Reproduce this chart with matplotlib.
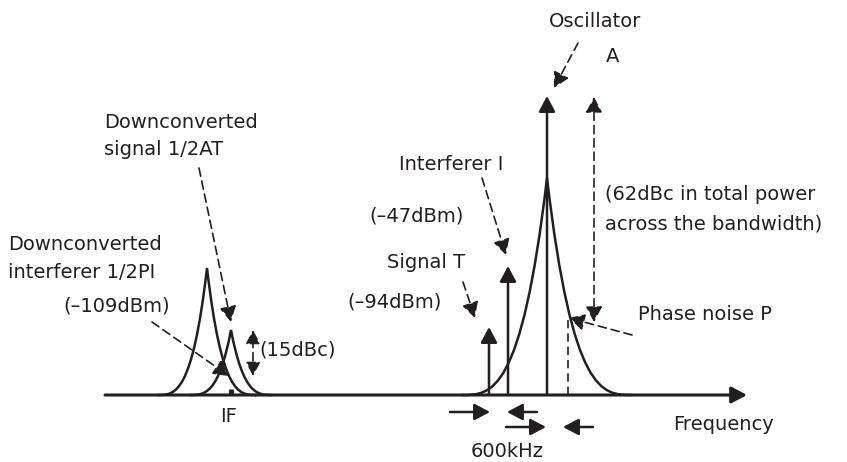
#!/usr/bin/env python3
"""Spectrum sketch: reciprocal mixing of phase noise down to IF."""

import matplotlib.pyplot as plt
from matplotlib.patches import PathPatch
from matplotlib.path import Path

INK = "#231f20"
BASE_Y = 395  # row of the frequency axis, counted from the top of the picture

# IF side: downconverted interferer 1/2PI, downconverted signal 1/2AT
IF_CENTERS = [207, 231]
IF_PEAKS = [127, 65]
IF_HALFW = [49, 41]
IF_X = 231

# RF side: oscillator A with its phase noise skirt, signal T, interferer I
OSC_X = 547
OSC_TOP = 299
NOISE_PEAK = 217
NOISE_HALFW = 85
TONE_X = [489, 508]
TONE_TOP = [68, 129]
OFFSET_X = 568
OFFSET_LEVEL = 77

HEAD = "-|>,head_length=0.47,head_width=0.25"
HEAD2 = "<|-|>,head_length=0.47,head_width=0.25"
DASH = (0, (5, 3))


def py(row):
    # picture row -> data y (0 on the frequency axis, up is positive)
    return BASE_Y - row


def arrow(ax, tail, tip, style=HEAD, lw=1.8, ls="-"):
    ax.annotate(
        "",
        xy=(tip[0], py(tip[1])),
        xytext=(tail[0], py(tail[1])),
        arrowprops=dict(
            arrowstyle=style,
            color=INK,
            lw=lw,
            linestyle=ls,
            shrinkA=0,
            shrinkB=0,
            mutation_scale=20,
        ),
    )


def cusp(ax, c, h, w, lw=1.8):
    verts = [
        (c - w, 0), (c - 0.65 * w, 0), (c - 0.3 * w, 0), (c, h),
        (c + 0.3 * w, 0), (c + 0.65 * w, 0), (c + w, 0),
    ]
    codes = [Path.MOVETO] + [Path.CURVE4] * 6
    ax.add_patch(PathPatch(Path(verts, codes), fill=False, edgecolor=INK, lw=lw,
                           capstyle="round", joinstyle="miter"))


def label(ax, x, row, s, ha="left"):
    ax.text(x, py(row), s, ha=ha, va="baseline", fontsize=14, color=INK)


def main():
    plt.rcParams["font.family"] = ["DejaVu Sans"]
    fig = plt.figure(figsize=(8.47, 4.62), dpi=100)
    ax = fig.add_axes([0, 0, 1, 1])
    ax.set_xlim(0, 847)
    ax.set_ylim(BASE_Y - 462, BASE_Y)
    ax.axis("off")

    # frequency axis
    arrow(ax, (105, BASE_Y), (747, BASE_Y), lw=2.2)

    # IF side
    for c, h, w in zip(IF_CENTERS, IF_PEAKS, IF_HALFW):
        cusp(ax, c, h, w)
    ax.plot([IF_X, IF_X], [0, 6], color=INK, lw=3.5, solid_capstyle="butt")

    # RF side
    cusp(ax, OSC_X, NOISE_PEAK, NOISE_HALFW)
    ax.annotate("", xy=(OSC_X, OSC_TOP), xytext=(OSC_X, 0),
                arrowprops=dict(arrowstyle=HEAD, color=INK, lw=1.8, shrinkA=0,
                                shrinkB=0, mutation_scale=20))
    for x, top in zip(TONE_X, TONE_TOP):
        ax.annotate("", xy=(x, top), xytext=(x, 0),
                    arrowprops=dict(arrowstyle=HEAD, color=INK, lw=1.8, shrinkA=0,
                                    shrinkB=0, mutation_scale=20))
    ax.plot([OFFSET_X, OFFSET_X], [0, OFFSET_LEVEL], color=INK, lw=1.2, linestyle=DASH)

    # dashed pointers
    arrow(ax, (199, 168), (231, 322), lw=1.2, ls=DASH)
    arrow(ax, (152, 322), (229, 376), lw=1.2, ls=DASH)
    arrow(ax, (578, 43), (554, 88), lw=1.2, ls=DASH)
    arrow(ax, (482, 178), (506, 255), lw=1.2, ls=DASH)
    arrow(ax, (463, 282), (475, 318), lw=1.2, ls=DASH)
    arrow(ax, (632, 335), (569, 318), lw=1.2, ls=DASH)
    arrow(ax, (594, 97), (594, 322), style=HEAD2, lw=1.2, ls=DASH)
    ax.annotate("", xy=(253, py(330)), xytext=(253, py(376)),
                arrowprops=dict(arrowstyle="<|-|>,head_length=0.42,head_width=0.22",
                                color=INK, lw=1.2, linestyle=DASH, shrinkA=0,
                                shrinkB=0, mutation_scale=20))

    # 600 kHz spacing markers
    arrow(ax, (450, 412), (490, 412))
    arrow(ax, (537, 412), (507, 412))
    arrow(ax, (506, 427), (546, 427))
    arrow(ax, (593, 427), (563, 427))

    # texts
    label(ax, 595, 27, "Oscillator", ha="center")
    label(ax, 613, 62, "A", ha="center")
    label(ax, 104, 128, "Downconverted")
    label(ax, 104, 155, "signal 1/2AT")
    label(ax, 8, 250, "Downconverted")
    label(ax, 8, 278, "interferer 1/2PI")
    label(ax, 63, 312, "(\u2013109dBm)")
    label(ax, 259, 355, "(15dBc)")
    label(ax, 229, 422, "IF", ha="center")
    label(ax, 451, 170, "Interferer I", ha="center")
    label(ax, 417, 222, "(\u201347dBm)", ha="center")
    label(ax, 426, 268, "Signal T", ha="center")
    label(ax, 395, 307, "(\u201394dBm)", ha="center")
    label(ax, 605, 200, "(62dBc in total power")
    label(ax, 605, 229, "across the bandwidth)")
    label(ax, 638, 320, "Phase noise P")
    label(ax, 673, 430, "Frequency")
    label(ax, 507, 457, "600kHz", ha="center")

    fig.savefig("out.png", dpi=100, facecolor="white")
    plt.close(fig)


if __name__ == "__main__":
    main()
